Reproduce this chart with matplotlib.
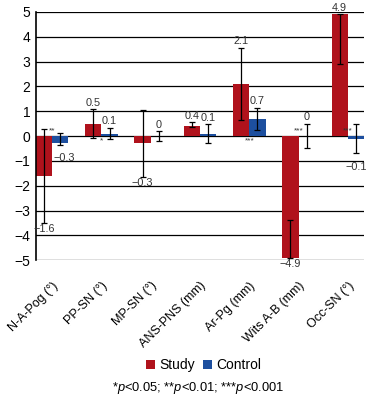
import numpy as np
import matplotlib
matplotlib.use("Agg")
import matplotlib.pyplot as plt

plt.rcParams["font.family"] = ["Liberation Sans", "DejaVu Sans"]
plt.rcParams["mathtext.fontset"] = "custom"
plt.rcParams["mathtext.rm"] = "Liberation Sans"
plt.rcParams["mathtext.it"] = "Liberation Sans:italic"

categories = ["N-A-Pog (°)", "PP-SN (°)", "MP-SN (°)", "ANS-PNS (mm)",
              "Ar-Pg (mm)", "Wits A-B (mm)", "Occ-SN (°)"]
study = [-1.6, 0.5, -0.3, 0.4, 2.1, -4.9, 4.9]
control = [-0.3, 0.1, 0, 0.1, 0.7, 0, -0.1]
study_err_lo = [1.9, 0.57, 1.35, 0.05, 1.45, 0, 2.0]
study_err_hi = [1.9, 0.57, 1.35, 0.15, 1.45, 1.5, 0]
control_err_lo = [0.05, 0.22, 0.2, 0.37, 0.44, 0.5, 0.6]
control_err_hi = [0.42, 0.24, 0.2, 0.37, 0.44, 0.5, 0.6]
study_labels = ["\u22121.6", "0.5", "\u22120.3", "0.4", "2.1", "\u22124.9", "4.9"]
control_labels = ["\u22120.3", "0.1", "0", "0.1", "0.7", "0", "\u22120.1"]
# significance marks: (group index, text, below zero line?)
sig = [(0, "**", False), (1, "*", True), (4, "***", True), (5, "***", False), (6, "***", False)]

red = "#b0121c"
blue = "#1d4f9f"
w = 0.33
x = np.arange(len(categories))

fig = plt.figure(figsize=(3.67, 3.96), dpi=100)
ax = fig.add_axes([0.098, 0.343, 0.894, 0.627])

ax.set_ylim(-5, 5)
ax.set_xlim(-w, len(categories) - 1 + w)
ax.set_yticks(range(-5, 6))
ax.set_yticklabels([str(v).replace("-", "\u2212") for v in range(-5, 6)], fontsize=10)
for v in range(-5, 6):
    ax.axhline(v, color="black", lw=0.9, zorder=1)

ax.bar(x - w / 2, study, w, color=red, zorder=2, label="Study")
ax.bar(x + w / 2, control, w, color=blue, zorder=2, label="Control")
ax.errorbar(x - w / 2, study, yerr=[study_err_lo, study_err_hi], fmt="none",
            ecolor="black", elinewidth=0.9, capsize=2.5, capthick=0.9, zorder=3)
ax.errorbar(x + w / 2, control, yerr=[control_err_lo, control_err_hi], fmt="none",
            ecolor="black", elinewidth=0.9, capsize=2.5, capthick=0.9, zorder=3)

lab_kw = dict(textcoords="offset points", fontsize=7.8, color="#333333",
              annotation_clip=False)
for i in range(len(categories)):
    v = study[i]
    if v >= 0:
        ax.annotate(study_labels[i], (i - w / 2, min(v + study_err_hi[i], 5)),
                    xytext=(0, 1), ha="center", va="bottom", **lab_kw)
    else:
        ax.annotate(study_labels[i], (i - w / 2, max(v - study_err_lo[i], -5)),
                    xytext=(0, -1), ha="center", va="top", **lab_kw)
    c = control[i]
    if c >= 0:
        ax.annotate(control_labels[i], (i + w / 2, c + control_err_hi[i]),
                    xytext=(0, 1), ha="center", va="bottom", **lab_kw)
    else:
        ax.annotate(control_labels[i], (i + w / 2, c - control_err_lo[i]),
                    xytext=(3 if i < len(categories) - 1 else 0, -6),
                    ha="center", va="top", **lab_kw)

for i, s, below in sig:
    ax.annotate(s, (i, 0), xytext=(0, -1 if below else 1), textcoords="offset points",
                ha="center", va="top" if below else "bottom", fontsize=6, color="#333333")

for side in ["top", "right", "bottom"]:
    ax.spines[side].set_visible(False)
ax.spines["left"].set_linewidth(1.2)
ax.tick_params(axis="y", length=0, pad=4)
ax.tick_params(axis="x", length=0, pad=14)
ax.set_xticks(x)
ax.set_xticklabels(categories, rotation=45, ha="right", rotation_mode="anchor",
                   fontsize=9)

fig.legend(loc="center", bbox_to_anchor=(0.555, 0.078), ncol=2, frameon=False,
           fontsize=10, handlelength=0.65, handleheight=0.65, handletextpad=0.3,
           columnspacing=0.6)
fig.text(0.54, 0.02, r"*$\mathit{p}$<0.05; **$\mathit{p}$<0.01; ***$\mathit{p}$<0.001",
         ha="center", va="center", fontsize=9.3)

fig.savefig("out.png", dpi=100)
